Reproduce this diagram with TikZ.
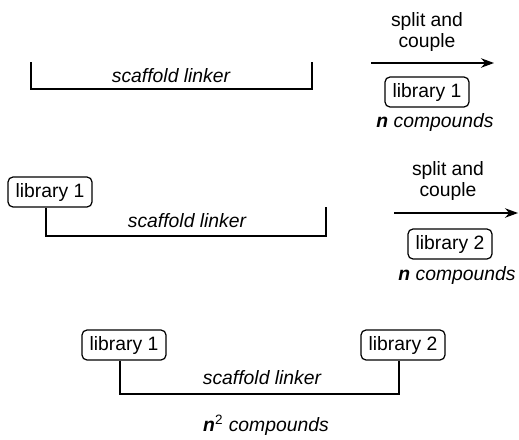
\documentclass[tikz,border=0pt]{standalone}
\usepackage{fontspec}
\setmainfont{Liberation Sans}
\usepackage{tikz}
\usetikzlibrary{arrows.meta, positioning, calc}

\begin{document}
\begin{tikzpicture}[x=0.2mm, y=-0.2mm, line width=0.7pt,
    every node/.style={font=\fontsize{11}{11.5}\selectfont},
    libbox/.style={draw, rounded corners=1mm, minimum width=1.68cm, minimum height=0.6cm, inner sep=2pt},
    linkertext/.style={font=\fontsize{11}{11.5}\selectfont\itshape},
    steptext/.style={align=center},
    reacts/.style={-{Stealth[length=2.6mm, width=1.9mm]}}]
    \useasboundingbox (0,0) rectangle (519,439);

    % First coupling: bare scaffold linker
    \coordinate (sl1a) at (31,62);
    \coordinate (sl1b) at (312,62);
    \draw (sl1a) -- ++(0,27) -| (sl1b);
    \node[linkertext] (sl1) at (171,76) {scaffold linker};

    \node[steptext] (sc1) at (427,32) {split and\\couple};
    \coordinate (ar1a) at (371,63);
    \coordinate (ar1b) at (494,63);
    \draw[reacts] (ar1a) -- (ar1b);
    \node[libbox] (lib1a) at (427,92) {library 1};
    \node (nc1) at (435,122) {\textbf{\textit{n}} \textit{compounds}};

    % Second coupling: library 1 on the linker
    \node[libbox] (lib1b) at (50,192) {library 1};
    \coordinate (sl2a) at (326,236);
    \coordinate (sl2b) at (326,207);
    \draw ([xshift=-0.8mm]lib1b.south) |- (sl2a) -- (sl2b);
    \node[linkertext] (sl2) at (187,221) {scaffold linker};

    \node[steptext] (sc2) at (448,181) {split and\\couple};
    \coordinate (ar2a) at (394,213);
    \coordinate (ar2b) at (518,213);
    \draw[reacts] (ar2a) -- (ar2b);
    \node[libbox] (lib2b) at (450,244) {library 2};
    \node (nc2) at (457,275) {\textbf{\textit{n}} \textit{compounds}};

    % Product: both libraries on the linker
    \node[libbox] (lib1c) at (124,345) {library 1};
    \node[libbox] (lib2c) at (403,345) {library 2};
    \coordinate (sl3a) at (262,394);
    \draw ([xshift=-0.8mm]lib1c.south) |- (sl3a) -| ([xshift=-0.8mm]lib2c.south);
    \node[linkertext] (sl3) at (262,378) {scaffold linker};
    \node (nc3) at (266,425) {\textbf{\textit{n}}\textsuperscript{2} \textit{compounds}};
\end{tikzpicture}
\end{document}
